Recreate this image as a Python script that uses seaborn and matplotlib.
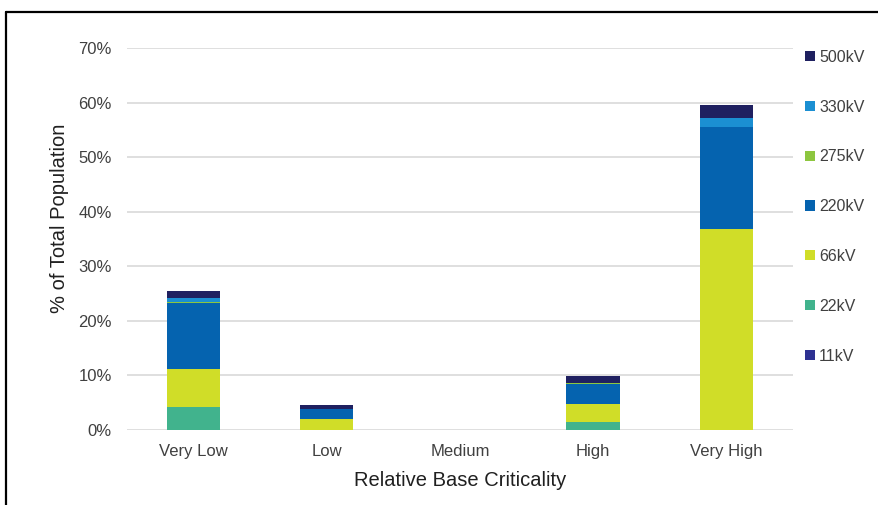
import matplotlib
matplotlib.use("Agg")
import matplotlib.pyplot as plt
from matplotlib.patches import Patch
from matplotlib.lines import Line2D
from matplotlib.ticker import PercentFormatter
import seaborn as sns
import pandas as pd

categories = ["Very Low", "Low", "Medium", "High", "Very High"]
voltages = ["11kV", "22kV", "66kV", "220kV", "275kV", "330kV", "500kV"]

kv11 = [0.0, 0.0, 0.0, 0.0, 0.0]
kv22 = [4.2, 0.0, 0.0, 1.5, 0.0]
kv66 = [7.0, 2.0, 0.0, 3.3, 36.8]
kv220 = [12.1, 1.8, 0.0, 3.6, 18.8]
kv275 = [0.2, 0.0, 0.0, 0.3, 0.0]
kv330 = [0.6, 0.1, 0.0, 0.0, 1.5]
kv500 = [1.3, 0.7, 0.0, 1.2, 2.4]

colors = {
    "11kV": "#2E3192",
    "22kV": "#41B38D",
    "66kV": "#D0DD28",
    "220kV": "#0563AF",
    "275kV": "#8DC63F",
    "330kV": "#1B8FD2",
    "500kV": "#1F2060",
}

series = dict(zip(voltages, [kv11, kv22, kv66, kv220, kv275, kv330, kv500]))

sns.set_theme(style="white")
plt.rcParams["font.family"] = ["Liberation Sans", "DejaVu Sans"]

fig = plt.figure(figsize=(8.79, 5.05), dpi=100)
ax = fig.add_axes([0.1445, 0.1485, 0.7575, 0.7565])

bottom = [0.0] * len(categories)
for v in voltages:
    df = pd.DataFrame({"category": categories, "value": series[v]})
    sns.barplot(data=df, x="category", y="value", order=categories,
                color=colors[v], bottom=bottom, width=0.4,
                saturation=1, ax=ax, zorder=3, linewidth=0)
    bottom = [b + s for b, s in zip(bottom, series[v])]

ax.set_ylim(0, 70)
ax.set_yticks(range(0, 71, 10))
ax.yaxis.set_major_formatter(PercentFormatter(decimals=0))
ax.set_xlim(-0.5, len(categories) - 0.5)
ax.grid(axis="y", color="#D9D9D9", linewidth=1.2, zorder=0)
ax.set_axisbelow(True)
for s in ax.spines.values():
    s.set_visible(False)
ax.tick_params(axis="x", length=0, labelsize=12, colors="#404040", pad=10)
ax.tick_params(axis="y", length=0, labelsize=12, colors="#404040", pad=11)
ax.set_xlabel("Relative Base Criticality", fontsize=14.5, color="#202020", labelpad=9)
ax.set_ylabel("% of Total Population", fontsize=14.5, color="#202020")
ax.yaxis.set_label_coords(-0.087, 0.555)

handles = [Patch(facecolor=colors[v], edgecolor="none", label=v)
           for v in reversed(voltages)]
fig.legend(handles=handles, loc="upper left", bbox_to_anchor=(0.9, 0.93),
           frameon=False, fontsize=11.5, handlelength=0.6, handleheight=0.6,
           handletextpad=0.25, labelspacing=2.18, labelcolor="#404040")

# outer frame lines on the top and left edges
fig.add_artist(Line2D([0.007, 0.007], [0.0, 0.977], transform=fig.transFigure,
                      color="black", linewidth=1.6))
fig.add_artist(Line2D([0.007, 1.0], [0.977, 0.977], transform=fig.transFigure,
                      color="black", linewidth=1.6))

fig.savefig("out.png", dpi=100)
